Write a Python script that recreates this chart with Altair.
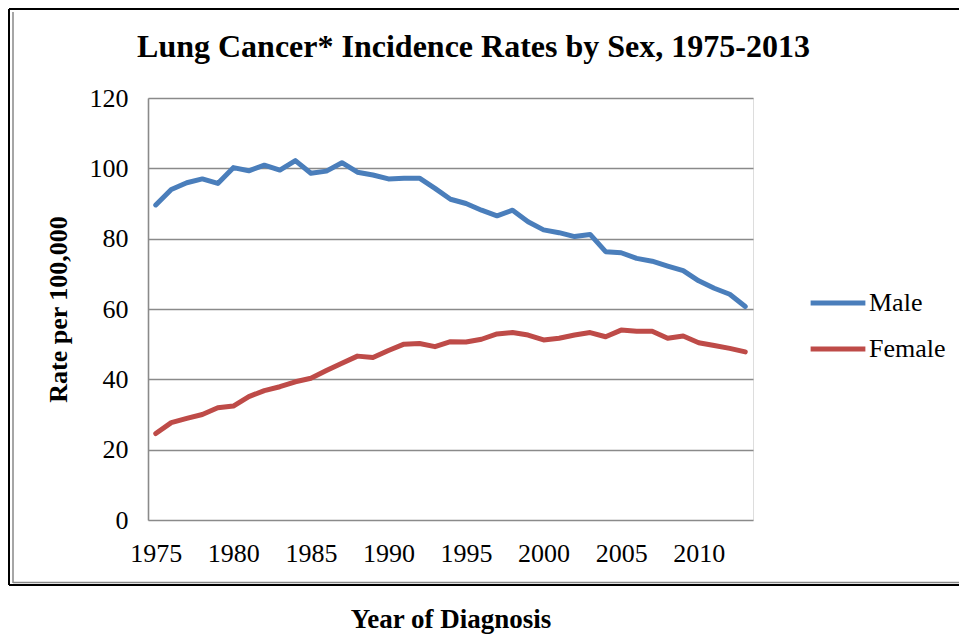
import altair as alt
import pandas as pd

years = list(range(1975, 2014))
male = [89.6, 94.0, 95.9, 97.0, 95.7, 100.2, 99.3, 100.9, 99.5, 102.2,
        98.6, 99.2, 101.6, 98.9, 98.1, 97.0, 97.2, 97.2,
        94.3, 91.2, 90.0, 88.1, 86.5, 88.1, 84.8, 82.5, 81.7, 80.6,
        81.2, 76.3, 76.0, 74.4, 73.6, 72.2, 70.9, 68.0, 65.9, 64.2, 60.7]
female = [24.6, 27.7, 28.9, 30.0, 31.9, 32.4, 35.1, 36.8, 37.9, 39.3,
          40.3, 42.5, 44.6, 46.6, 46.2, 48.2, 50.0, 50.2, 49.3,
          50.7, 50.6, 51.4, 52.9, 53.3, 52.6, 51.2, 51.7, 52.6, 53.3,
          52.1, 54.0, 53.7, 53.7, 51.7, 52.3, 50.4, 49.6, 48.8, 47.8]
series = ["Male", "Female"]
colors = ["#4a7ebb", "#be4b48"]
x_ticks = [1975, 1980, 1985, 1990, 1995, 2000, 2005, 2010]
y_ticks = [0, 20, 40, 60, 80, 100, 120]

df = pd.DataFrame({
    "Year": years * 2,
    "Rate": male + female,
    "Sex": ["Male"] * len(years) + ["Female"] * len(years),
})

FONT = "Liberation Serif"

lines = alt.Chart(df).mark_line(strokeWidth=5, strokeCap="round", strokeJoin="round").encode(
    x=alt.X("Year:Q",
            scale=alt.Scale(domain=[1974.5, 2013.5], nice=False, zero=False),
            axis=alt.Axis(values=x_ticks, format="d", grid=False, domain=False, ticks=False,
                          labelPadding=20, labelFontSize=26, labelFont=FONT, labelColor="#000",
                          title="Year of Diagnosis", titleFont=FONT, titleFontSize=27,
                          titleFontWeight="bold", titleColor="#000", titlePadding=40)),
    y=alt.Y("Rate:Q",
            scale=alt.Scale(domain=[0, 120], nice=False),
            axis=alt.Axis(values=y_ticks, grid=True, gridColor="#8a8a8a", gridWidth=1.6,
                          domain=True, domainColor="#8a8a8a", domainWidth=1.6, ticks=False,
                          labelPadding=20, labelFontSize=26, labelFont=FONT, labelColor="#000",
                          title="Rate per 100,000", titleFont=FONT, titleFontSize=26,
                          titleFontWeight="bold", titleColor="#000", titlePadding=18)),
    color=alt.Color("Sex:N", scale=alt.Scale(domain=series, range=colors),
                    legend=alt.Legend(title=None, orient="none", legendX=660, legendY=175,
                                      symbolType="stroke", symbolSize=3000, symbolStrokeWidth=5,
                                      labelFont=FONT, labelFontSize=26, labelColor="#000",
                                      labelOffset=1, rowPadding=3, padding=0)),
)

frame_data = alt.Data(values=[{"k": 1}])
left_black = alt.Chart(frame_data).mark_rule(color="#000", strokeWidth=2).encode(
    x=alt.value(-139), y=alt.value(-89), y2=alt.value(487))
left_gray = alt.Chart(frame_data).mark_rule(color="#888", strokeWidth=1.5).encode(
    x=alt.value(-135), y=alt.value(-86), y2=alt.value(485))
top_black = alt.Chart(frame_data).mark_rule(color="#000", strokeWidth=2).encode(
    y=alt.value(-89), x=alt.value(-139), x2=alt.value(811))
bottom_gray = alt.Chart(frame_data).mark_rule(color="#888", strokeWidth=1.5).encode(
    y=alt.value(484.5), x=alt.value(-135), x2=alt.value(811))
bottom_black = alt.Chart(frame_data).mark_rule(color="#000", strokeWidth=2).encode(
    y=alt.value(487), x=alt.value(-139), x2=alt.value(811))

chart = alt.layer(left_black, left_gray, top_black, bottom_gray, bottom_black, lines).properties(
    width=605, height=422,
    title=alt.Title("Lung Cancer* Incidence Rates by Sex, 1975-2013", font=FONT, fontSize=32,
                    fontWeight="bold", color="#000", anchor="middle", dx=23,
                    baseline="alphabetic", offset=0, dy=81),
    padding={"left": 140, "top": 90, "right": 206, "bottom": 115},
    autosize=alt.AutoSizeParams(type="none"),
).configure_view(stroke=None).configure(background="white")

chart.save("out.html", embed_options={"renderer": "svg", "actions": False})
